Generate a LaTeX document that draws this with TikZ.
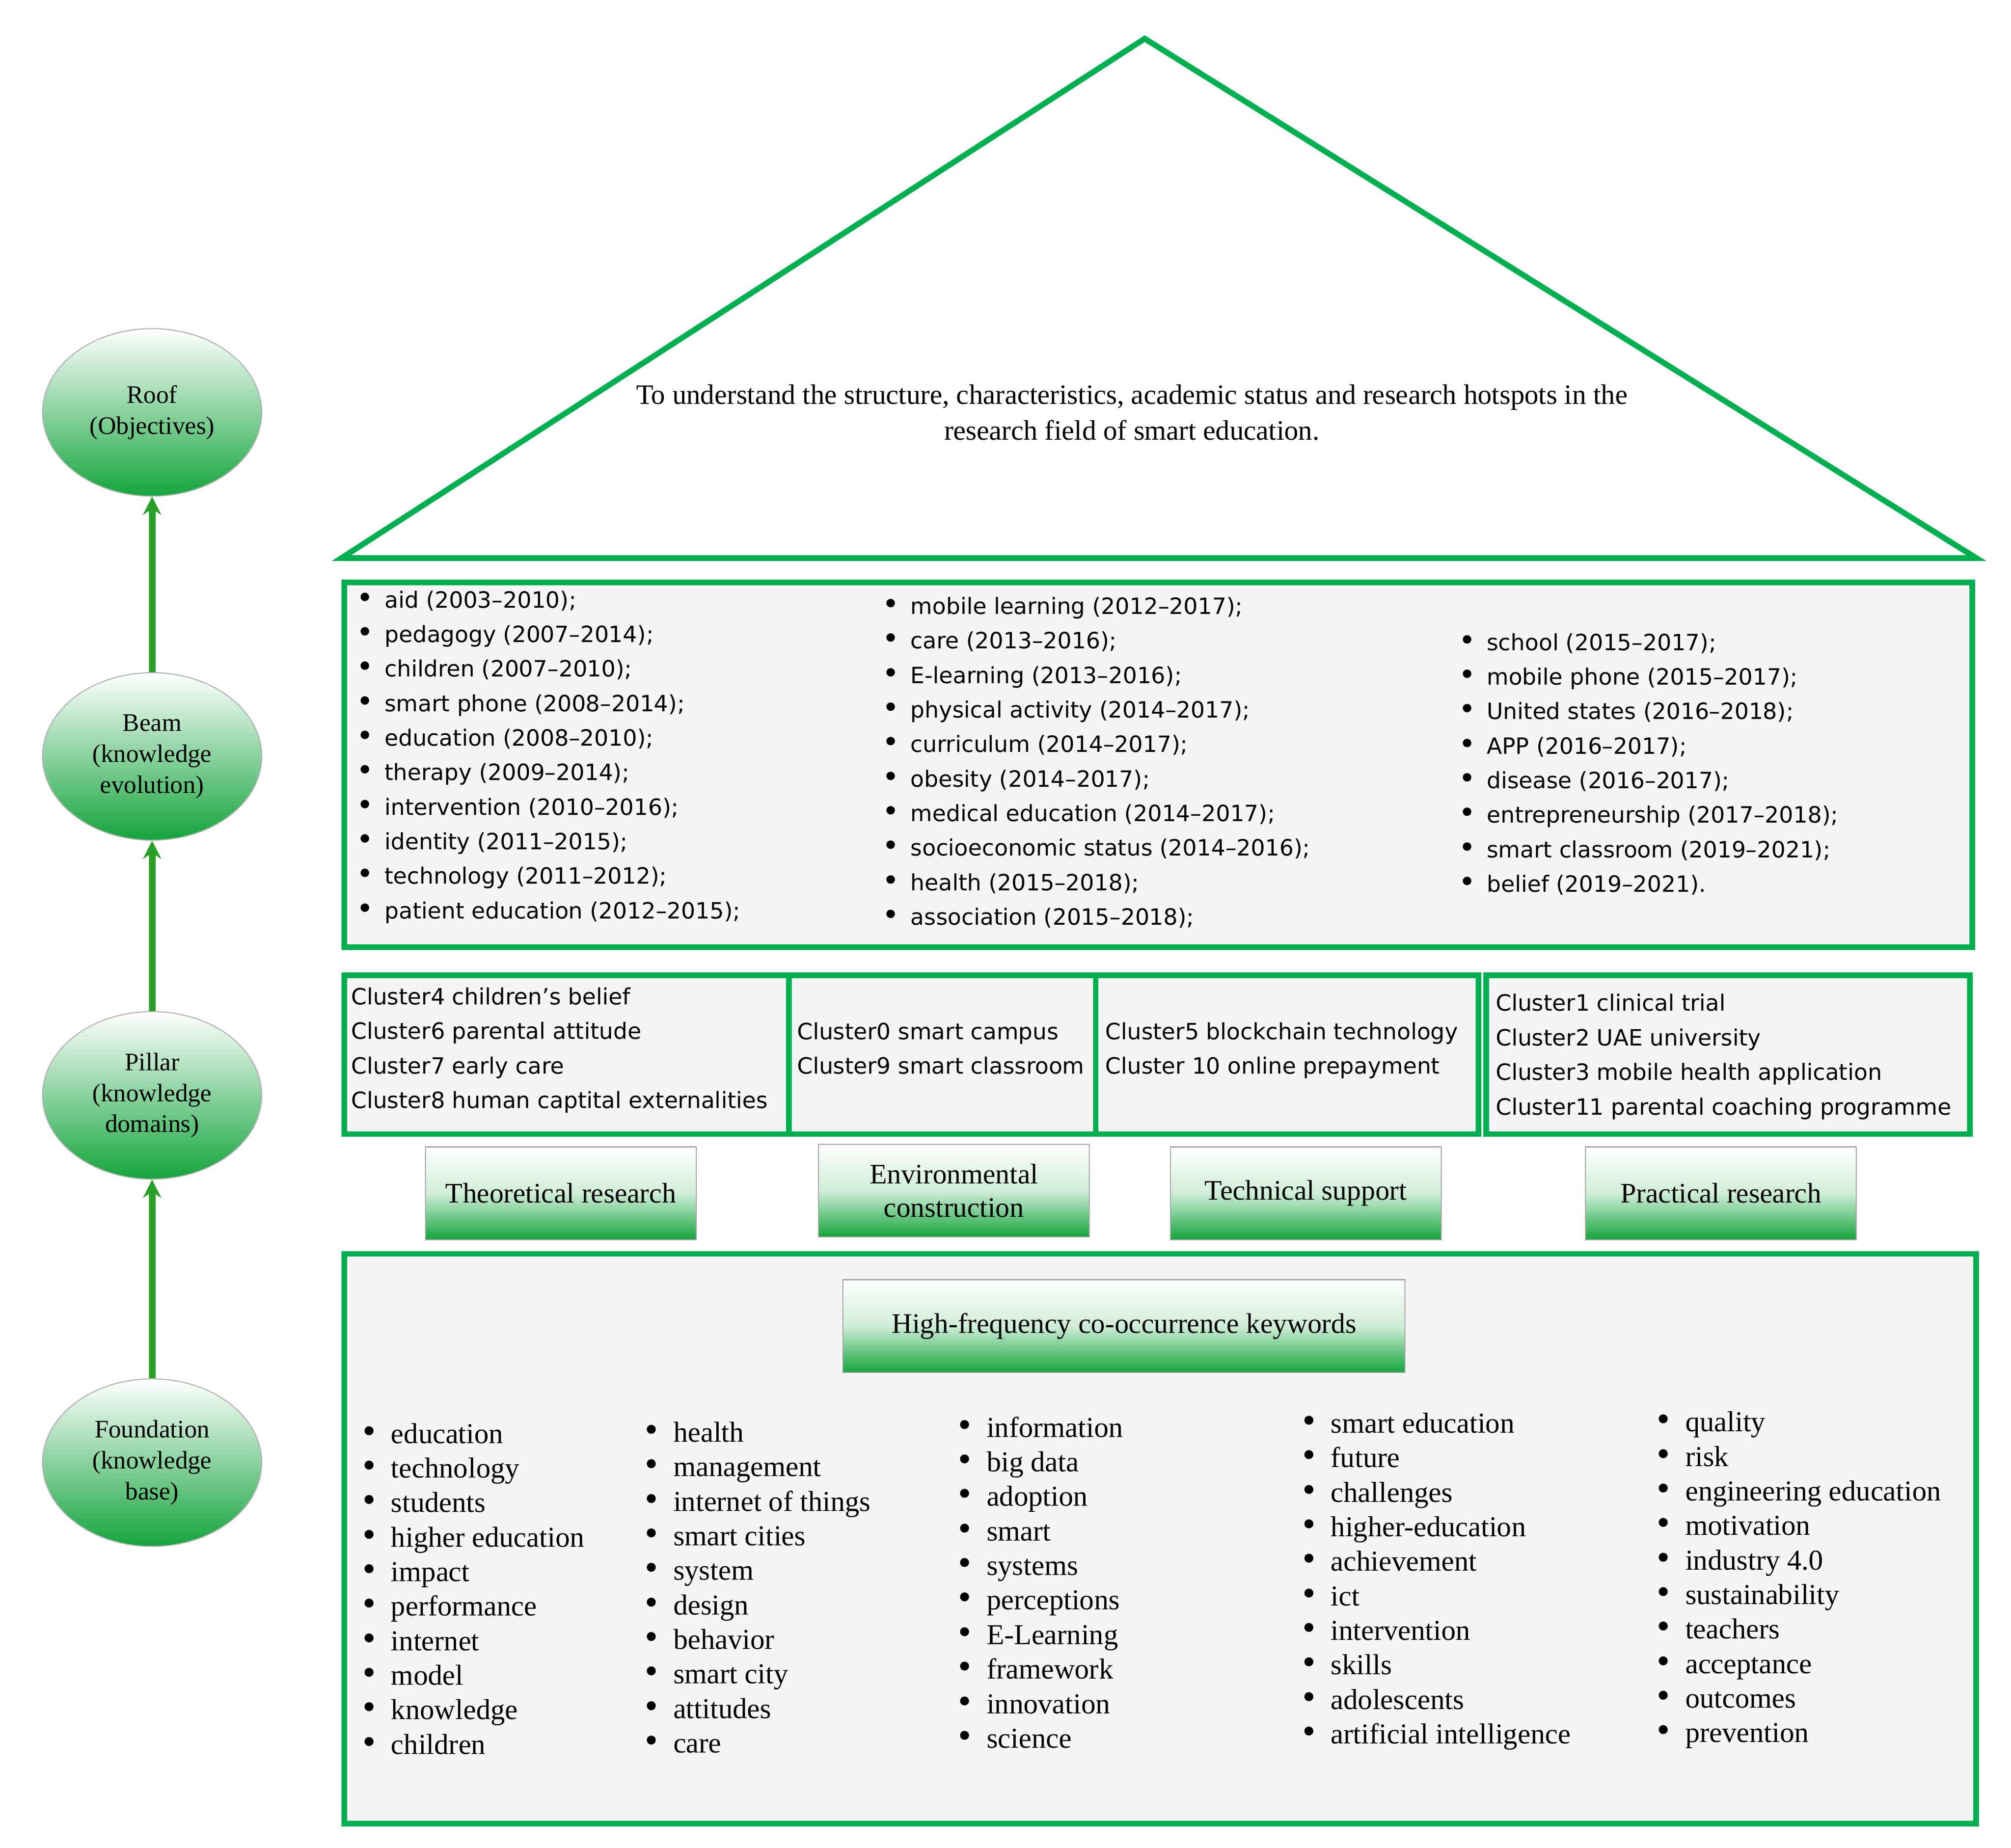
\documentclass[tikz,border=0pt]{standalone}
\usepackage{fontspec}
\setmainfont{Liberation Serif}
\newfontfamily\sansf{DejaVu Sans}
\usetikzlibrary{arrows.meta,shapes.geometric}
\definecolor{gbord}{RGB}{0,176,80}
\definecolor{gfill}{RGB}{20,165,60}
\definecolor{garr}{RGB}{40,160,40}
\newcommand{\bl}{\makebox[11pt][l]{\scalebox{1.3}{\textbullet}}}
\tikzset{x=0.5pt,y=-0.5pt,
  frame/.style={draw=gbord,line width=2.2pt},
  gbox/.style={draw=gray!70,line width=0.4pt,top color=white,bottom color=gfill,middle color=white!80!gfill,shading angle=0},
  ell/.style={draw=gray!60,line width=0.4pt,ellipse,minimum width=85pt,minimum height=65pt,top color=white,bottom color=gfill,align=center,font=\fontsize{9.8}{12}\selectfont},
  lst/.style={anchor=north west,align=left,inner sep=0pt},
  arr/.style={draw=garr,line width=2.6pt,-{Stealth[length=7pt,width=7pt]}}}
\begin{document}
\begin{tikzpicture}
\useasboundingbox (0,0) rectangle (1560,1434);
% roof
\coordinate (apex) at (888,30);
\coordinate (bl) at (265,433);
\coordinate (br) at (1533,433);
\draw[frame,line join=miter] (bl) -- (apex) -- (br) -- cycle;
\node[align=center,font=\fontsize{10.9}{14}\selectfont] (roof) at (878,320) {To understand the structure, characteristics, academic status and research hotspots in the\\research field of smart education.};
% beam
\draw[frame,fill=gray!8] (267,452) rectangle (1530,735);
\node[lst,font=\sansf\fontsize{8.7}{13.4}\selectfont] (b1) at (276,458) {\bl aid (2003–2010);\\ \bl pedagogy (2007–2014);\\ \bl children (2007–2010);\\ \bl smart phone (2008–2014);\\ \bl education (2008–2010);\\ \bl therapy (2009–2014);\\ \bl intervention (2010–2016);\\ \bl identity (2011–2015);\\ \bl technology (2011–2012);\\ \bl patient education (2012–2015);};
\node[lst,font=\sansf\fontsize{8.7}{13.4}\selectfont] (b2) at (684,463) {\bl mobile learning (2012–2017);\\ \bl care (2013–2016);\\ \bl E-learning (2013–2016);\\ \bl physical activity (2014–2017);\\ \bl curriculum (2014–2017);\\ \bl obesity (2014–2017);\\ \bl medical education (2014–2017);\\ \bl socioeconomic status (2014–2016);\\ \bl health (2015–2018);\\ \bl association (2015–2018);};
\node[lst,font=\sansf\fontsize{8.7}{13.4}\selectfont] (b3) at (1131,491) {\bl school (2015–2017);\\ \bl mobile phone (2015–2017);\\ \bl United states (2016–2018);\\ \bl APP (2016–2017);\\ \bl disease (2016–2017);\\ \bl entrepreneurship (2017–2018);\\ \bl smart classroom (2019–2021);\\ \bl belief (2019–2021).};
% pillars
\draw[frame,fill=gray!8] (267,757) rectangle (612,880);
\draw[frame,fill=gray!8] (612,757) rectangle (850,880);
\draw[frame,fill=gray!8] (850,757) rectangle (1147,880);
\draw[frame,fill=gray!8] (1153,757) rectangle (1528,880);
\node[lst,font=\sansf\fontsize{8.7}{13.4}\selectfont] (p1) at (272,766) {Cluster4 children’s belief\\Cluster6 parental attitude\\Cluster7 early care\\Cluster8 human captital externalities};
\node[lst,font=\sansf\fontsize{8.7}{13.4}\selectfont] (p2) at (618,793) {Cluster0 smart campus\\Cluster9 smart classroom};
\node[lst,font=\sansf\fontsize{8.7}{13.4}\selectfont] (p3) at (857,793) {Cluster5 blockchain technology\\Cluster 10 online prepayment};
\node[lst,font=\sansf\fontsize{8.7}{13.4}\selectfont] (p4) at (1160,771) {Cluster1 clinical trial\\Cluster2 UAE university\\Cluster3 mobile health application\\Cluster11 parental coaching programme};
% labels
\node[gbox,minimum width=105pt,minimum height=36pt,font=\fontsize{11}{13}\selectfont] (l1) at (435,926) {Theoretical research};
\node[gbox,minimum width=105pt,minimum height=36pt,font=\fontsize{11}{13}\selectfont,align=center] (l2) at (740,924) {Environmental\\construction};
\node[gbox,minimum width=105pt,minimum height=36pt,font=\fontsize{11}{13}\selectfont] (l3) at (1013,926) {Technical support};
\node[gbox,minimum width=105pt,minimum height=36pt,font=\fontsize{11}{13}\selectfont] (l4) at (1335,926) {Practical research};
% foundation
\draw[frame,fill=gray!8] (267,973) rectangle (1533,1415);
\node[gbox,minimum width=218pt,minimum height=36pt,font=\fontsize{11}{13}\selectfont] (hf) at (872,1029) {High-frequency co-occurrence keywords};
\node[lst,font=\fontsize{11.2}{13.4}\selectfont] (f1) at (281,1104) {\bl education\\ \bl technology\\ \bl students\\ \bl higher education\\ \bl impact\\ \bl performance\\ \bl internet\\ \bl model\\ \bl knowledge\\ \bl children};
\node[lst,font=\fontsize{11.2}{13.4}\selectfont] (f2) at (500,1103) {\bl health\\ \bl management\\ \bl internet of things\\ \bl smart cities\\ \bl system\\ \bl design\\ \bl behavior\\ \bl smart city\\ \bl attitudes\\ \bl care};
\node[lst,font=\fontsize{11.2}{13.4}\selectfont] (f3) at (743,1099) {\bl information\\ \bl big data\\ \bl adoption\\ \bl smart\\ \bl systems\\ \bl perceptions\\ \bl E-Learning\\ \bl framework\\ \bl innovation\\ \bl science};
\node[lst,font=\fontsize{11.2}{13.4}\selectfont] (f4) at (1010,1096) {\bl smart education\\ \bl future\\ \bl challenges\\ \bl higher-education\\ \bl achievement\\ \bl ict\\ \bl intervention\\ \bl skills\\ \bl adolescents\\ \bl artificial intelligence};
\node[lst,font=\fontsize{11.2}{13.4}\selectfont] (f5) at (1285,1095) {\bl quality\\ \bl risk\\ \bl engineering education\\ \bl motivation\\ \bl industry 4.0\\ \bl sustainability\\ \bl teachers\\ \bl acceptance\\ \bl outcomes\\ \bl prevention};
% ellipses
\node[ell] (e1) at (118,320) {Roof\\(Objectives)};
\node[ell] (e2) at (118,587) {Beam\\(knowledge\\evolution)};
\node[ell] (e3) at (118,850) {Pillar\\(knowledge\\domains)};
\node[ell] (e4) at (118,1135) {Foundation\\(knowledge\\base)};
\draw[arr] (e4) -- (e3);
\draw[arr] (e3) -- (e2);
\draw[arr] (e2) -- (e1);
\end{tikzpicture}
\end{document}
